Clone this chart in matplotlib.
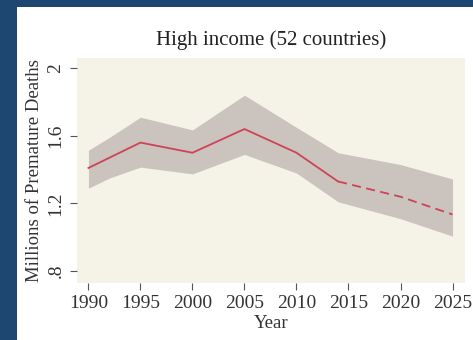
import matplotlib.pyplot as plt
from matplotlib.patches import Rectangle

# estimated premature deaths (millions), high-income countries
years_obs = [1990, 1992, 1995, 2000, 2005, 2010, 2014]
mid_obs = [1.41, 1.47, 1.56, 1.50, 1.64, 1.50, 1.33]
years_proj = [2014, 2020, 2025]
mid_proj = [1.33, 1.24, 1.135]

band_years = [1990, 1992, 1995, 2000, 2005, 2010, 2014, 2020, 2025]
band_upper = [1.515, 1.59, 1.71, 1.635, 1.84, 1.65, 1.50, 1.43, 1.345]
band_lower = [1.29, 1.35, 1.415, 1.375, 1.49, 1.38, 1.21, 1.11, 1.007]

xticks = [1990, 1995, 2000, 2005, 2010, 2015, 2020, 2025]
yticks = [0.8, 1.2, 1.6, 2.0]
ylabels = ['.8', '1.2', '1.6', '2']

plt.rcParams['font.family'] = ['Liberation Serif', 'DejaVu Serif']

fig = plt.figure(figsize=(4.73, 3.40), dpi=100)
fig.patch.set_facecolor('#1d4770')
# white panel, leaving the navy strip at left and top
fig.patches.append(Rectangle((17 / 473, 0), 1, 1 - 7 / 340,
                             transform=fig.transFigure,
                             facecolor='white', edgecolor='none', zorder=-5))

ax = fig.add_axes([77 / 473, 57 / 340, 388 / 473, 225 / 340])
ax.set_zorder(2)
ax.set_facecolor('#f5f2e8')

ax.fill_between(band_years, band_lower, band_upper,
                color='#cbc3bd', linewidth=0)
ax.plot(years_obs, mid_obs, color='#cc4455', linewidth=1.3)
ax.plot(years_proj, mid_proj, color='#cc4455', linewidth=1.3,
        linestyle=(0, (5, 3)))

ax.set_xlim(1988.9, 2026.2)
ax.set_ylim(0.73, 2.06)
ax.set_xticks(xticks)
ax.set_yticks(yticks)
ax.set_yticklabels(ylabels, rotation=90, va='center')

for s in ax.spines.values():
    s.set_visible(False)
ax.tick_params(axis='both', colors='#555555', labelcolor='#333333',
               labelsize=14, length=5, width=0.8, direction='out')
ax.tick_params(axis='x', pad=4)
ax.tick_params(axis='y', pad=4)

ax.set_xlabel('Year', fontsize=13.5, color='#333333', labelpad=2)
ax.set_ylabel('Millions of Premature Deaths', fontsize=13.5,
              color='#333333', labelpad=3)
ax.set_title('High income (52 countries)', fontsize=15,
             color='#222222', pad=9)

fig.savefig('out.png', dpi=100, facecolor=fig.get_facecolor())
